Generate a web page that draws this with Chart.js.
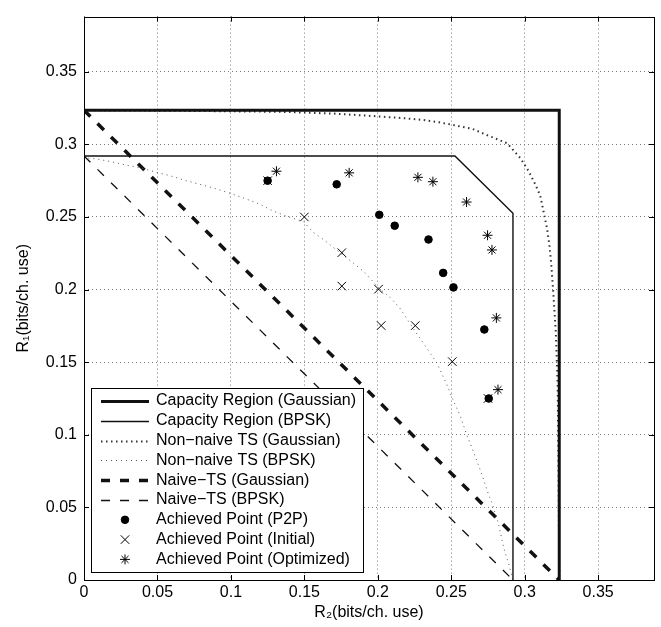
<!DOCTYPE html>
<html><head><meta charset="utf-8">
<script src="https://cdn.jsdelivr.net/npm/chart.js@4/dist/chart.umd.min.js"></script>
<style>html,body{margin:0;padding:0;background:#fff;}canvas{display:block;}</style>
</head><body>
<canvas id="c" width="661" height="627"></canvas>
<script>
// ---- data (R2 on x, R1 on y) ----
const xTickVals = [0, 0.05, 0.1, 0.15, 0.2, 0.25, 0.3, 0.35];
const yTickVals = [0, 0.05, 0.1, 0.15, 0.2, 0.25, 0.3, 0.35];
const axisMax = 0.388;

const capacityGaussian = [[0,0.3235],[0.3235,0.3235],[0.3235,0]];
const capacityBPSK = [[0,0.292],[0.2525,0.292],[0.292,0.2525],[0.292,0]];
const nonNaiveGaussian = [[0,0.3235],[0.068,0.3231],[0.1357,0.3224],[0.17,0.3212],[0.2,0.3193],[0.2193,0.3179],[0.2307,0.3168],[0.242,0.3152],[0.2533,0.3129],[0.2646,0.3106],[0.2743,0.3064],[0.288,0.3008],[0.297,0.2906],[0.3027,0.2815],[0.3072,0.2725],[0.3106,0.2646],[0.3129,0.2533],[0.3152,0.242],[0.3168,0.2307],[0.3179,0.2193],[0.3193,0.2],[0.3212,0.17],[0.3224,0.1357],[0.3231,0.068],[0.3235,0]];
const nonNaiveBPSK = [[0,0.292],[0.0022,0.2906],[0.009,0.2899],[0.0193,0.2879],[0.0284,0.2858],[0.0386,0.2838],[0.0488,0.2809],[0.0579,0.2786],[0.0681,0.2754],[0.0772,0.2729],[0.0874,0.2702],[0.0999,0.2662],[0.1101,0.2625],[0.1192,0.259],[0.1294,0.2538],[0.138,0.2505],[0.1494,0.2468],[0.1562,0.2393],[0.163,0.2345],[0.1676,0.2307],[0.1834,0.2182],[0.1903,0.2126],[0.2005,0.2013],[0.2084,0.1945],[0.2147,0.1877],[0.2243,0.173],[0.2334,0.1595],[0.2403,0.1493],[0.2465,0.1357],[0.251,0.1244],[0.2561,0.1131],[0.2607,0.0995],[0.2652,0.0882],[0.2709,0.0724],[0.2754,0.0588],[0.2777,0.0531],[0.2822,0.0385],[0.2856,0.0226],[0.289,0.0113],[0.292,0]];
const naiveGaussian = [[0,0.3235],[0.3235,0]];
const naiveBPSK = [[0,0.292],[0.292,0]];
const achievedP2P = [[0.125,0.275],[0.172,0.2725],[0.201,0.2515],[0.2115,0.244],[0.2345,0.2345],[0.2445,0.2115],[0.2515,0.2015],[0.2725,0.1725],[0.2755,0.125]];
const achievedInitial = [[0.125,0.275],[0.15,0.25],[0.1755,0.2254],[0.1755,0.2024],[0.2005,0.2003],[0.2023,0.1752],[0.2255,0.1752],[0.2507,0.1504],[0.275,0.125]];
const achievedOptimized = [[0.131,0.2815],[0.1805,0.2804],[0.2273,0.2773],[0.2375,0.2743],[0.2604,0.2603],[0.2747,0.2374],[0.2777,0.2273],[0.2807,0.1805],[0.2818,0.1311]];

const labels = ['Capacity Region (Gaussian)','Capacity Region (BPSK)','Non\u2212naive TS (Gaussian)','Non\u2212naive TS (BPSK)','Naive\u2212TS (Gaussian)','Naive\u2212TS (BPSK)','Achieved Point (P2P)','Achieved Point (Initial)','Achieved Point (Optimized)'];

const toXY = a => a.map(p => ({x:p[0], y:p[1]}));
const FONT = '"Liberation Sans", Arial, Helvetica, sans-serif';

function lineDs(label, pts, width, dash, color) {
  return {label, data: toXY(pts), showLine: true, borderColor: color, backgroundColor: color,
    borderWidth: width, borderDash: dash, pointRadius: 0, pointHoverRadius: 0, tension: 0, order: 2,
    borderCapStyle: 'butt'};
}
function ptDs(label, pts, style, radius, bw, fill) {
  return {label, data: toXY(pts), showLine: false, pointStyle: style, pointRadius: radius,
    pointBorderWidth: bw, borderColor: '#000', backgroundColor: fill ? '#000' : 'rgba(0,0,0,0)',
    pointBackgroundColor: fill ? '#000' : 'rgba(0,0,0,0)', pointBorderColor: '#000', order: 1};
}

const datasets = [
  lineDs(labels[0], capacityGaussian, 3, [], '#111'),
  lineDs(labels[1], capacityBPSK, 1.4, [], '#111'),
  lineDs(labels[2], nonNaiveGaussian, 2, [1.5, 3.5], '#333'),
  lineDs(labels[3], nonNaiveBPSK, 1, [1, 4], '#555'),
  lineDs(labels[4], naiveGaussian, 3.5, [9, 10], '#111'),
  lineDs(labels[5], naiveBPSK, 1.3, [9, 10], '#111'),
  ptDs(labels[6], achievedP2P, 'circle', 3.8, 1, true),
  ptDs(labels[7], achievedInitial, 'crossRot', 6, 1, false),
  ptDs(labels[8], achievedOptimized, 'star', 5, 1, false)
];

const legendPlugin = {
  id: 'insideLegend',
  afterDatasetsDraw(chart) {
    const ctx = chart.ctx;
    const L = 91, T = 388, R = 363, B = 572;
    ctx.save();
    ctx.fillStyle = '#fff';
    ctx.fillRect(L, T, R - L, B - T);
    ctx.strokeStyle = '#000'; ctx.lineWidth = 1; ctx.setLineDash([]);
    ctx.strokeRect(L + 0.5, T + 0.5, R - L, B - T);
    chart.data.datasets.forEach((ds, i) => {
      const y = 401 + i * 19.8;
      if (ds.showLine) {
        ctx.save();
        ctx.beginPath();
        ctx.strokeStyle = ds.borderColor; ctx.lineWidth = ds.borderWidth;
        ctx.setLineDash(ds.borderDash || []); ctx.lineCap = 'butt';
        ctx.moveTo(101, Math.round(y) + 0.5); ctx.lineTo(149, Math.round(y) + 0.5);
        ctx.stroke();
        ctx.restore();
      } else {
        ctx.save();
        ctx.setLineDash([]);
        ctx.strokeStyle = '#000'; ctx.fillStyle = ds.pointBackgroundColor; ctx.lineWidth = ds.pointBorderWidth;
        Chart.helpers.drawPoint(ctx, {pointStyle: ds.pointStyle, radius: ds.pointRadius, borderWidth: ds.pointBorderWidth, rotation: 0}, 125, y);
        ctx.restore();
      }
      ctx.fillStyle = '#000';
      ctx.font = '16px ' + FONT;
      ctx.textBaseline = 'middle'; ctx.textAlign = 'left';
      ctx.fillText(ds.label, 156, y);
    });
    ctx.restore();
  }
};

const boxPlugin = {
  id: 'matlabBox',
  afterDraw(chart) {
    const {ctx, chartArea: a, scales: {x, y}} = chart;
    ctx.save();
    ctx.setLineDash([]);
    ctx.strokeStyle = '#000'; ctx.lineWidth = 1;
    ctx.strokeRect(Math.round(a.left) + 0.5, Math.round(a.top) + 0.5, Math.round(a.right - a.left), Math.round(a.bottom - a.top));
    ctx.beginPath();
    const tl = 5;
    xTickVals.forEach(v => {
      const px = Math.round(x.getPixelForValue(v)) + 0.5;
      ctx.moveTo(px, a.bottom); ctx.lineTo(px, a.bottom - tl);
      ctx.moveTo(px, a.top); ctx.lineTo(px, a.top + tl);
    });
    yTickVals.forEach(v => {
      const py = Math.round(y.getPixelForValue(v)) + 0.5;
      ctx.moveTo(a.left, py); ctx.lineTo(a.left + tl, py);
      ctx.moveTo(a.right, py); ctx.lineTo(a.right - tl, py);
    });
    ctx.stroke();
    ctx.restore();
  }
};

const fmt = v => String(Math.round(v * 100) / 100);
const tickFont = {family: FONT, size: 16};

new Chart(document.getElementById('c'), {
  type: 'scatter',
  data: {datasets},
  plugins: [legendPlugin, boxPlugin],
  options: {
    responsive: false, animation: false, devicePixelRatio: 1,
    layout: {padding: {top: 7, right: 6, left: 0, bottom: 0}},
    plugins: {legend: {display: false}, tooltip: {enabled: false}},
    scales: {
      x: {
        type: 'linear', position: 'bottom', min: 0, max: axisMax,
        afterBuildTicks: s => { s.ticks = xTickVals.map(v => ({value: v})); },
        afterFit: s => { s.height = 47; },
        ticks: {padding: 3, font: tickFont, color: '#000', callback: v => fmt(v), maxRotation: 0, autoSkip: false},
        grid: {color: '#7a7a7a', lineWidth: 1, drawTicks: false},
        border: {display: false, dash: [1, 3]},
        title: {display: true, text: 'R\u2082(bits/ch. use)', font: tickFont, color: '#000', padding: {top: 0, bottom: 5}}
      },
      y: {
        type: 'linear', position: 'left', min: 0, max: axisMax,
        afterBuildTicks: s => { s.ticks = yTickVals.map(v => ({value: v})); },
        afterFit: s => { s.width = 84; },
        ticks: {padding: 7, font: tickFont, color: '#000', callback: v => fmt(v), autoSkip: false},
        grid: {color: '#7a7a7a', lineWidth: 1, drawTicks: false},
        border: {display: false, dash: [1, 3]},
        title: {display: true, text: 'R\u2081(bits/ch. use)', font: tickFont, color: '#000', padding: {top: 14, bottom: 0}}
      }
    }
  }
});
</script>
</body></html>
